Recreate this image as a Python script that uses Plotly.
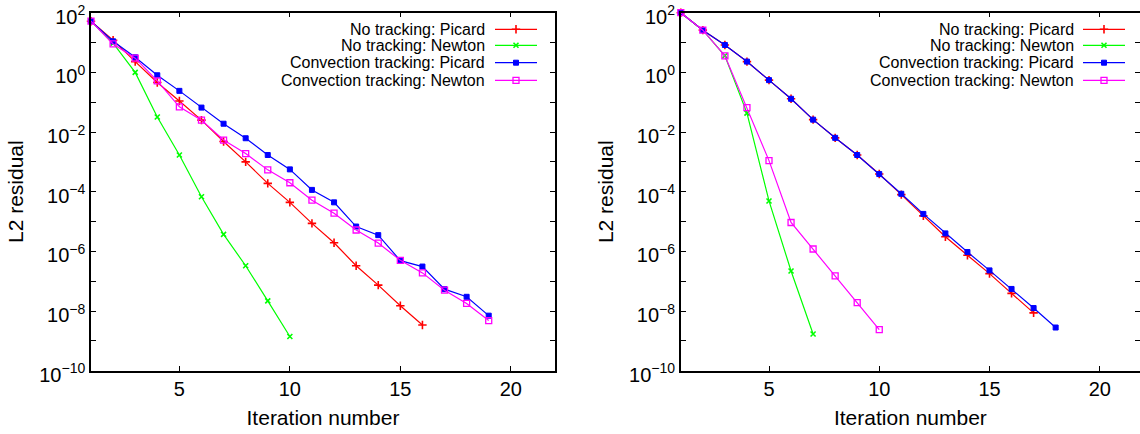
import plotly.graph_objects as go

# ---------------- data ----------------
iterations = list(range(1, 23))

# Left panel
left_none_picard = [52, 12, 2.3, 0.46, 0.11, 0.025, 0.0048, 0.001, 1.9e-4, 4.4e-5,
                    8.7e-6, 1.95e-6, 3.3e-7, 7.4e-8, 1.5e-8, 3.4e-9]
left_none_newton = [52, 9.5, 1.0, 0.032, 0.0017, 6.8e-5, 3.7e-6, 3.3e-7, 2.2e-8, 1.4e-9]
left_conv_picard = [52, 11, 3.2, 0.8, 0.24, 0.066, 0.019, 0.0062, 0.0017, 5.6e-4,
                    1.15e-4, 4.4e-5, 6.8e-6, 3.5e-6, 4.9e-7, 3.1e-7, 5.4e-8, 3.0e-8, 7.0e-9]
left_conv_newton = [52, 9, 3.0, 0.52, 0.07, 0.025, 0.0054, 0.0019, 5.4e-4, 2.0e-4,
                    5.2e-5, 1.9e-5, 5.2e-6, 1.9e-6, 5.0e-7, 1.9e-7, 5.0e-8, 1.8e-8, 4.8e-9]

# Right panel
right_none_picard = [100, 26, 8.3, 2.3, 0.55, 0.13, 0.026, 0.0064, 0.0017, 3.9e-4,
                     8.0e-5, 1.55e-5, 3.1e-6, 7.4e-7, 1.8e-7, 3.9e-8, 8.7e-9]
right_none_newton = [100, 26, 3.6, 0.043, 4.9e-5, 2.2e-7, 1.7e-9]
right_conv_picard = [100, 26, 8.3, 2.3, 0.55, 0.13, 0.026, 0.0064, 0.0017, 3.9e-4,
                     8.5e-5, 1.8e-5, 4.0e-6, 9.5e-7, 2.3e-7, 5.5e-8, 1.26e-8, 2.8e-9]
right_conv_newton = [100, 26, 3.6, 0.066, 0.0011, 9.3e-6, 1.2e-6, 1.5e-7, 1.9e-8, 2.4e-9]

series_names = ["No tracking: Picard", "No tracking: Newton",
                "Convection tracking: Picard", "Convection tracking: Newton"]
series_colors = ["#ff0000", "#00ff00", "#0000ff", "#ff00ff"]
series_symbols = ["cross-thin-open", "x-thin-open", "square", "square-open"]
series_sizes = [6, 5, 5, 6]
series_mwidth = [1.6, 1.6, 1.0, 1.3]

x_ticks = [5, 10, 15, 20]
y_exponents = list(range(-10, 3))

# ---------------- layout geometry ----------------
W, H = 1140, 434
FONT = "Liberation Sans, Arial, Helvetica, sans-serif"

def fx(p):
    return p / W

def fy(p):
    return 1 - p / H

plot_top = 12.7
plot_bottom = 370.7
panels = [
    dict(x0=91, x1=555, xrange=[1, 22], legend_text_x=487, legend_line=(495, 537),
         data=[left_none_picard, left_none_newton, left_conv_picard, left_conv_newton]),
    dict(x0=680.8, x1=1140, xrange=[1, 1 + (1140 - 680.8) / 22.05], legend_text_x=1076,
         legend_line=(1083, 1125),
         data=[right_none_picard, right_none_newton, right_conv_picard, right_conv_newton]),
]
legend_rows = [29.3, 45.3, 62.7, 80.3]

fig = go.Figure()

ytickvals = [10.0 ** k for k in y_exponents]
yticktext = [("10<sup>%s</sup>" % (str(k).replace("-", "\u2212"))) if k % 2 == 0 else ""
             for k in y_exponents]

for i, pnl in enumerate(panels):
    xa = "x" if i == 0 else "x2"
    ya = "y" if i == 0 else "y2"
    for s, vals in enumerate(pnl["data"]):
        fig.add_trace(go.Scatter(
            x=iterations[:len(vals)], y=vals, xaxis=xa, yaxis=ya,
            mode="lines+markers", name=series_names[s], showlegend=False,
            cliponaxis=False,
            line=dict(color=series_colors[s], width=1.2),
            marker=dict(symbol=series_symbols[s], size=series_sizes[s],
                        color=series_colors[s],
                        line=dict(color=series_colors[s], width=series_mwidth[s])),
        ))
    axis_common = dict(showline=True, linecolor="black", linewidth=1.5, mirror="allticks",
                       ticks="inside", ticklen=5, tickcolor="black", tickwidth=1,
                       showgrid=False, zeroline=False, ticklabeloverflow="allow",
                       tickfont=dict(family=FONT, size=20, color="black"),
                       automargin=False)
    xkey = "xaxis" if i == 0 else "xaxis2"
    ykey = "yaxis" if i == 0 else "yaxis2"
    fig.update_layout(**{
        xkey: dict(domain=[fx(pnl["x0"]), fx(pnl["x1"])], range=pnl["xrange"],
                   anchor=ya, tickvals=x_ticks,
                   title=dict(text="Iteration number", standoff=11,
                              font=dict(family=FONT, size=21, color="black")),
                   **axis_common),
        ykey: dict(domain=[fy(plot_bottom), fy(plot_top)], type="log",
                   range=[-10, 2.0005], ticklabelshift=4,
                   anchor=xa, tickvals=ytickvals, ticktext=yticktext,
                   title=dict(text="L2 residual", standoff=10,
                              font=dict(family=FONT, size=21, color="black")),
                   **axis_common),
    })
    # legend (gnuplot style: text right-aligned, sample to the right)
    lx0, lx1 = pnl["legend_line"]
    for s in range(4):
        fig.add_annotation(x=fx(pnl["legend_text_x"]), y=fy(legend_rows[s]),
                           xref="paper", yref="paper", xanchor="right", yanchor="middle",
                           text=series_names[s], showarrow=False,
                           font=dict(family=FONT, size=16, color="black"))
        fig.add_trace(go.Scatter(
            x=[lx0, lx1], y=[legend_rows[s], legend_rows[s]], xaxis="x3", yaxis="y3",
            mode="lines", showlegend=False, hoverinfo="skip", cliponaxis=False,
            line=dict(color=series_colors[s], width=1.2)))
        fig.add_trace(go.Scatter(
            x=[(lx0 + lx1) / 2], y=[legend_rows[s]], xaxis="x3", yaxis="y3",
            mode="markers", showlegend=False, hoverinfo="skip", cliponaxis=False,
            marker=dict(symbol=series_symbols[s], size=series_sizes[s],
                        color=series_colors[s],
                        line=dict(color=series_colors[s], width=series_mwidth[s]))))

fig.update_layout(
    xaxis3=dict(domain=[0, 1], range=[0, W], visible=False, anchor="y3", fixedrange=True),
    yaxis3=dict(domain=[0, 1], range=[H, 0], visible=False, anchor="x3", fixedrange=True),
    width=W, height=H,
    margin=dict(l=0, r=0, t=0, b=0),
    paper_bgcolor="white", plot_bgcolor="rgba(0,0,0,0)",
    font=dict(family=FONT, color="black"),
    showlegend=False,
)

fig.write_html("out.html", config={"displayModeBar": False})
